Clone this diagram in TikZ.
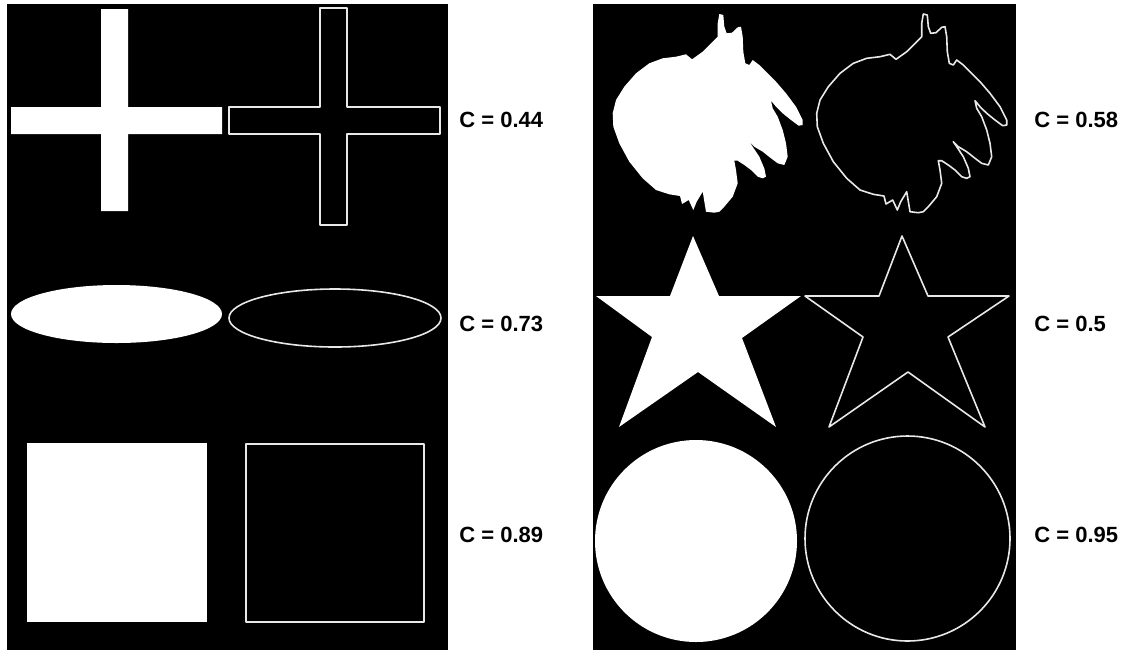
\documentclass[tikz,border=0pt]{standalone}
\usepackage{fontspec}
\setmainfont{Liberation Sans}
\usepackage{tikz}
\tikzset{
  panel/.style={fill=black},
  filled/.style={fill=white},
  contour/.style={draw=white!82!gray, line width=0.8pt, line join=round},
  ratio/.style={font=\fontsize{11}{13}\selectfont\bfseries, anchor=west, inner sep=0pt},
  blob/.pic={
    \path[pic actions] (113.3,4) -- (117.3,5) -- (118.3,16.7) -- (120.7,23.3) -- (126,22.7)
      -- (131.7,17.3) -- (135,16.7) -- (136.7,26.7) -- (137.3,41.7) -- (139.3,53.3)
      -- (143.3,55) -- (146.7,50) -- (153.3,55) -- (160,61.7) -- (170,71.7) -- (180,83.3)
      -- (190,96.7) -- (196.7,110) -- (196.7,115) -- (192.7,115.7) -- (185,110)
      -- (176.7,103.3) -- (170,96.7) -- (165,90.7) -- (166.7,98.3) -- (171.7,106.7)
      -- (176.7,120) -- (180,133.3) -- (181.7,146.7) -- (178.3,155) -- (171.7,153.3)
      -- (165,148.3) -- (156.7,141.7) -- (148.3,136.7) -- (143.3,131.7) -- (146.7,136.7)
      -- (153.3,146.7) -- (158.3,158.3) -- (160,166.7) -- (156.7,168.3) -- (151.7,166.7)
      -- (145,160) -- (138.3,155) -- (131.7,150.7) -- (128.3,150.7) -- (130,160)
      -- (131.7,173.3) -- (126.7,186.7) -- (118.3,196.7) -- (113.3,201.7) -- (108.3,202.7)
      -- (100,201.7) -- (96.7,181.7) -- (90.7,191.7) -- (87.3,200) -- (82.7,190)
      -- (76,194) -- (74,186) -- (63.3,184.3) -- (50,180) -- (36.7,168.3) -- (23.3,151.7)
      -- (13.3,133.3) -- (7.3,116.7) -- (6.7,103.3) -- (10,90) -- (18.3,76.7) -- (30,63.3)
      -- (43.3,53.3) -- (56.7,48.3) -- (70,46.7) -- (80,44.3) -- (86,49.3) -- (96.7,41.7)
      -- (106.7,31.7) -- (111.7,26.7) -- (111.7,13.3) -- cycle;
  }
}

\begin{document}
\begin{tikzpicture}[x=0.5pt,y=-0.5pt]
  \useasboundingbox[fill=white] (0,0) rectangle (1134,650);
  % two black panels
  \path[panel] (7,4) rectangle (448,650);
  \path[panel] (593,4) rectangle (1016,650);

  % crosses
  \path[filled] (101,9) -- (128,9) -- (128,107) -- (222,107) -- (222,134) -- (128,134)
    -- (128,211) -- (101,211) -- (101,134) -- (11,134) -- (11,107) -- (101,107) -- cycle;
  \path[contour] (320,8) -- (347,8) -- (347,107) -- (440,107) -- (440,134) -- (347,134)
    -- (347,225) -- (320,225) -- (320,134) -- (229,134) -- (229,107) -- (320,107) -- cycle;

  % ellipses
  \path[filled] (116.5,314) ellipse [x radius=105.5, y radius=29];
  \path[contour] (335,318) ellipse [x radius=106, y radius=29];

  % squares
  \path[filled] (27,443) rectangle (207,622);
  \path[contour] (246,444) rectangle (424,622);

  % leaf shapes
  \pic[filled] at (606,10) {blob};
  \pic[contour] at (810,10) {blob};

  % stars
  \path[filled] (693,236) -- (719,296) -- (801,296) -- (742,338) -- (776,427)
    -- (698,372) -- (619,427) -- (652,337) -- (596,296) -- (670,296) -- cycle;
  \path[contour] (902,236) -- (928,296) -- (1009,296) -- (948,337) -- (985,427)
    -- (908,372) -- (829,427) -- (863,337) -- (805,296) -- (879,296) -- cycle;

  % circles
  \path[filled] (696,541) circle [radius=101];
  \path[contour] (907.5,538.5) circle [radius=102.5];

  % compactness values
  \node[ratio] (c44) at (459,120) {C = 0.44};
  \node[ratio] (c73) at (459,324) {C = 0.73};
  \node[ratio] (c89) at (459,535) {C = 0.89};
  \node[ratio] (c58) at (1034,120) {C = 0.58};
  \node[ratio] (c50) at (1034,324) {C = 0.5};
  \node[ratio] (c95) at (1034,535) {C = 0.95};
\end{tikzpicture}
\end{document}
